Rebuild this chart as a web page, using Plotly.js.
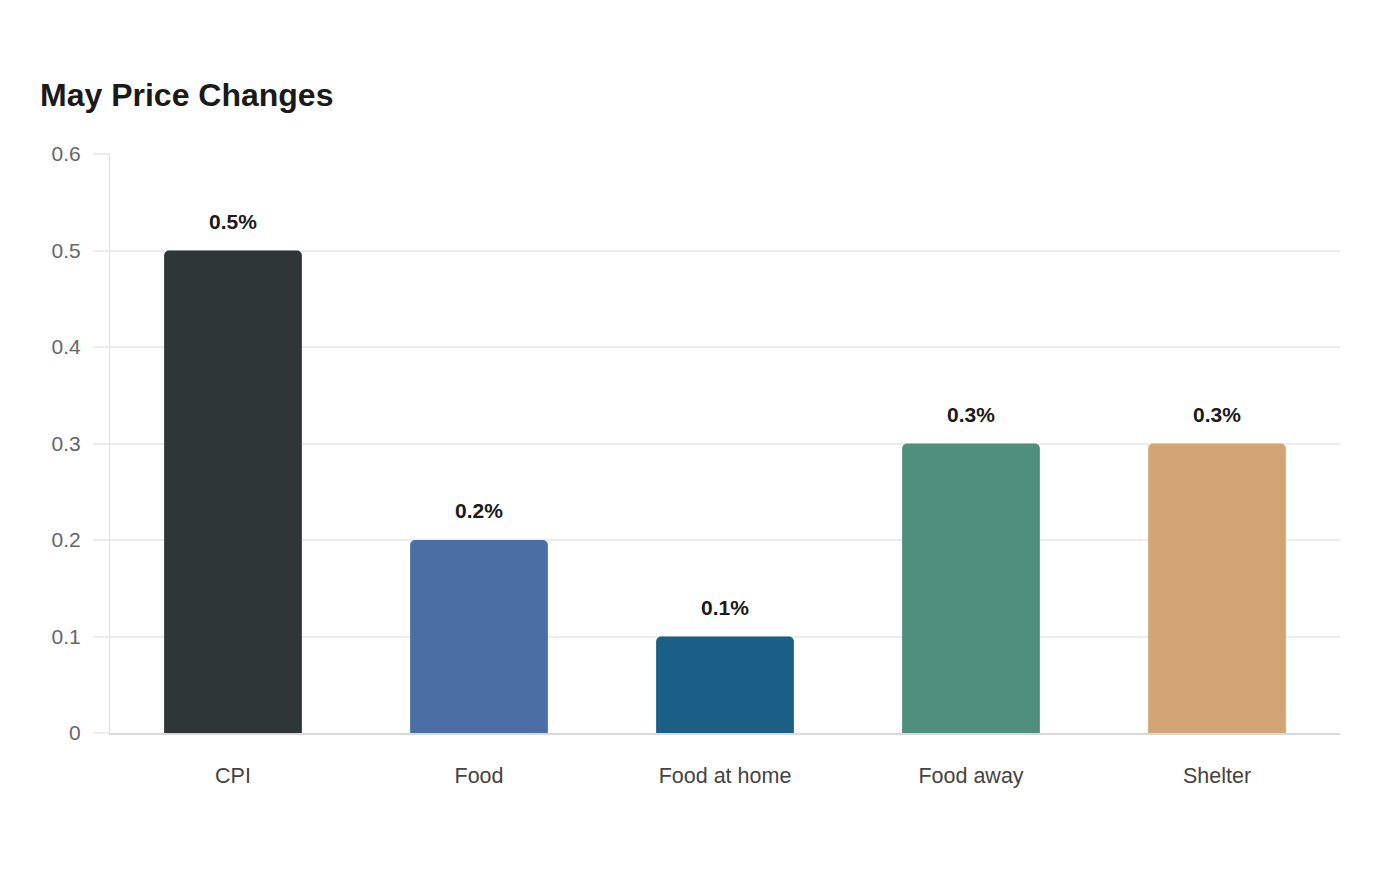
<!DOCTYPE html>
<html>
<head>
<meta charset="utf-8">
<script src="https://cdn.plot.ly/plotly-3.0.1.min.js"></script>
<style>html,body{margin:0;padding:0;background:#fff}#chart{width:1400px;height:880px}</style>
</head>
<body>
<div id="chart"></div>
<script>
const categories = ["CPI", "Food", "Food at home", "Food away", "Shelter"];
const values = [0.5, 0.2, 0.1, 0.3, 0.3];
const labels = ["0.5%", "0.2%", "0.1%", "0.3%", "0.3%"];
const colors = ["#2e3638", "#4a6fa5", "#1a5f85", "#4f8f7c", "#d4a574"];
const yTicks = [0, 0.1, 0.2, 0.3, 0.4, 0.5, 0.6];
const yTickText = ["0", "0.1", "0.2", "0.3", "0.4", "0.5", "0.6"];

const FONT = "Liberation Sans, Arial, sans-serif";

const trace = {
  type: "bar",
  x: categories,
  y: values,
  marker: {color: colors, cornerradius: 5},
  hoverinfo: "skip"
};

const annotations = categories.map((c, i) => ({
  x: c, y: values[i], text: "<b>" + labels[i] + "</b>",
  showarrow: false, yanchor: "bottom", yshift: 16,
  font: {family: FONT, size: 21, color: "#1a1a1a"}
}));

const layout = {
  width: 1400, height: 880,
  paper_bgcolor: "#fff", plot_bgcolor: "#fff",
  margin: {l: 110, r: 60, t: 154, b: 147},
  title: {text: "<b>May Price Changes</b>", x: 40 / 1400, xref: "container", xanchor: "left",
          y: 1 - 95 / 880, yref: "container", yanchor: "middle",
          font: {family: FONT, size: 32, color: "#1a1a1a"}},
  bargap: 0.44,
  showlegend: false,
  annotations: annotations,
  xaxis: {
    type: "category",
    tickfont: {family: FONT, size: 21.5, color: "#444"},
    ticks: "", ticklabelstandoff: 22,
    showgrid: false, showline: true, linecolor: "#d9d9d9", linewidth: 2,
    fixedrange: true
  },
  yaxis: {
    range: [0, 0.6],
    tickvals: yTicks, ticktext: yTickText,
    tickfont: {family: FONT, size: 21, color: "#666"},
    ticks: "outside", ticklen: 16, tickcolor: "#ececec", tickwidth: 2,
    ticklabelstandoff: 8,
    showgrid: true, gridcolor: "#ececec", gridwidth: 2,
    showline: true, linecolor: "#e2e2e2", linewidth: 1,
    zeroline: false,
    fixedrange: true
  }
};

Plotly.newPlot("chart", [trace], layout, {displayModeBar: false, staticPlot: true});
</script>
</body>
</html>
